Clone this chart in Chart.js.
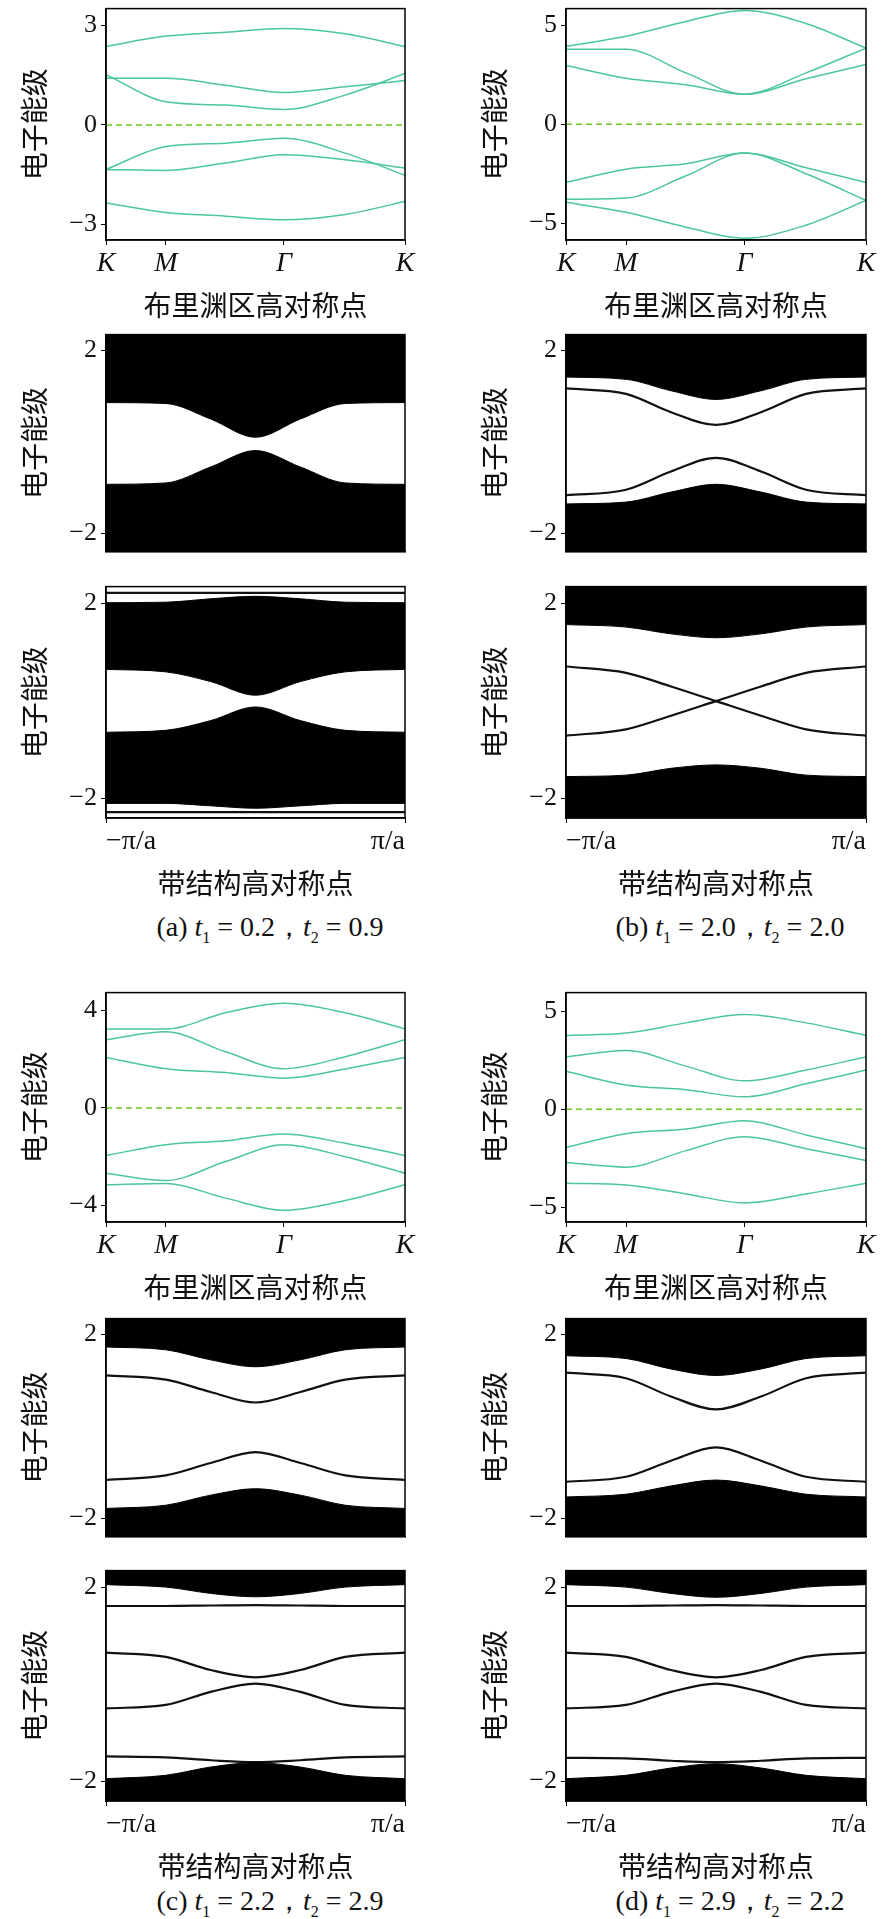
<!DOCTYPE html>
<html>
<head>
<meta charset="utf-8">
<script src="https://cdn.jsdelivr.net/npm/chart.js@4/dist/chart.umd.min.js"></script>
<style>
  body { margin:0; background:#fff; width:886px; height:1919px; position:relative; overflow:hidden; }
  canvas { position:absolute; }
  .cap { position:absolute; font-family:"Liberation Serif",serif; font-size:28px; color:#111; white-space:nowrap; transform:translateX(-50%); }
  .cap sub { font-size:16px; }
</style>
</head>
<body>
<div class="cap" style="left:270px;top:908px">(a) <i>t</i><sub>1</sub> = 0.2，<i>t</i><sub>2</sub> = 0.9</div>
<div class="cap" style="left:730px;top:908px">(b) <i>t</i><sub>1</sub> = 2.0，<i>t</i><sub>2</sub> = 2.0</div>
<div class="cap" style="left:270px;top:1882px">(c) <i>t</i><sub>1</sub> = 2.2，<i>t</i><sub>2</sub> = 2.9</div>
<div class="cap" style="left:730px;top:1882px">(d) <i>t</i><sub>1</sub> = 2.9，<i>t</i><sub>2</sub> = 2.2</div>
<script>
// 能带：K-M-Γ-K 路径
const bandX = [0, 0.2, 0.4, 0.595, 0.8, 1];
const bandTicks = [0, 0.2, 0.595, 1];
const bandTickLabels = ['K', 'M', 'Γ', 'K'];

const bandA = [
  [2.37, 2.68, 2.8, 2.91, 2.75, 2.37],
  [1.41, 1.41, 1.2, 0.98, 1.15, 1.34],
  [1.52, 0.7, 0.6, 0.47, 0.9, 1.55],
  [-1.34, -0.65, -0.55, -0.40, -0.85, -1.52],
  [-1.34, -1.37, -1.15, -0.9, -1.05, -1.3],
  [-2.35, -2.64, -2.75, -2.86, -2.7, -2.31]
];
const bandB = [
  [3.94, 4.45, 5.2, 5.76, 5.1, 3.85],
  [3.79, 3.79, 2.6, 1.52, 2.3, 3.03],
  [2.97, 2.33, 2.0, 1.52, 2.6, 3.85],
  [-2.94, -2.27, -2.0, -1.45, -2.2, -2.94],
  [-3.79, -3.73, -2.6, -1.45, -2.5, -3.85],
  [-3.94, -4.45, -5.2, -5.76, -5.1, -3.85]
];
const bandC = [
  [3.24, 3.24, 3.9, 4.29, 3.9, 3.24],
  [2.8, 3.12, 2.3, 1.61, 2.1, 2.8],
  [2.07, 1.61, 1.45, 1.22, 1.6, 2.07],
  [-1.95, -1.51, -1.35, -1.07, -1.45, -1.95],
  [-2.68, -2.98, -2.2, -1.51, -2.0, -2.68],
  [-3.15, -3.1, -3.7, -4.2, -3.8, -3.15]
];
const bandD = [
  [3.76, 3.88, 4.4, 4.82, 4.4, 3.76],
  [2.67, 3.0, 2.2, 1.45, 2.0, 2.67],
  [1.94, 1.24, 1.0, 0.64, 1.3, 2.0],
  [-1.94, -1.24, -1.0, -0.58, -1.3, -2.0],
  [-2.7, -2.94, -2.1, -1.39, -2.0, -2.6],
  [-3.76, -3.85, -4.3, -4.76, -4.3, -3.76]
];

// 纳米带：k 从 -π/a 到 π/a
const ribX = [-1, -0.6, -0.3, 0, 0.3, 0.6, 1];
const ribTickLabels = ['−π/a', 'π/a'];

const ribA1 = {
  up: [0.86, 0.84, 0.5, 0.1, 0.5, 0.84, 0.86],
  lo: [-0.93, -0.9, -0.55, -0.19, -0.55, -0.9, -0.93],
  lines: []
};
const ribA2 = {
  up: [0.65, 0.6, 0.4, 0.12, 0.4, 0.6, 0.65],
  lo: [-0.64, -0.6, -0.4, -0.12, -0.4, -0.6, -0.64],
  gapTop: [2.02, 2.03, 2.1, 2.15, 2.1, 2.03, 2.02],
  gapBot: [-2.1, -2.1, -2.15, -2.2, -2.15, -2.1, -2.1],
  lines: [[2.22, 2.22, 2.22, 2.22, 2.22, 2.22, 2.22], [-2.28, -2.28, -2.28, -2.28, -2.28, -2.28, -2.28]]
};
const ribB1 = {
  up: [1.42, 1.37, 1.12, 0.93, 1.12, 1.37, 1.42],
  lo: [-1.36, -1.32, -1.1, -0.93, -1.1, -1.32, -1.36],
  lines: [[1.17, 1.05, 0.65, 0.37, 0.65, 1.05, 1.17], [-1.17, -1.05, -0.65, -0.35, -0.65, -1.05, -1.17]]
};
const ribB2 = {
  up: [1.57, 1.52, 1.38, 1.3, 1.38, 1.52, 1.57],
  lo: [-1.55, -1.52, -1.38, -1.31, -1.38, -1.52, -1.55],
  lines: [[0.71, 0.58, 0.3, 0, -0.3, -0.58, -0.71], [-0.71, -0.58, -0.3, 0, 0.3, 0.58, 0.71]]
};
const ribC1 = {
  up: [1.73, 1.67, 1.45, 1.3, 1.45, 1.67, 1.73],
  lo: [-1.79, -1.72, -1.5, -1.36, -1.5, -1.72, -1.79],
  lines: [[1.11, 1.02, 0.75, 0.52, 0.75, 1.02, 1.11], [-1.17, -1.07, -0.8, -0.56, -0.8, -1.07, -1.17]]
};
const ribC2 = {
  up: [2.06, 2.01, 1.88, 1.81, 1.88, 2.01, 2.06],
  lo: [-1.94, -1.87, -1.7, -1.61, -1.7, -1.87, -1.94],
  lines: [[1.62, 1.62, 1.63, 1.64, 1.63, 1.62, 1.62],
          [0.66, 0.57, 0.3, 0.15, 0.3, 0.57, 0.66],
          [-0.49, -0.42, -0.15, 0.02, -0.15, -0.42, -0.49],
          [-1.48, -1.5, -1.56, -1.6, -1.56, -1.5, -1.48]]
};
const ribD1 = {
  up: [1.54, 1.48, 1.25, 1.11, 1.25, 1.48, 1.54],
  lo: [-1.54, -1.48, -1.3, -1.17, -1.3, -1.48, -1.54],
  lines: [[1.17, 1.05, 0.65, 0.37, 0.65, 1.05, 1.17], [-1.21, -1.1, -0.75, -0.46, -0.75, -1.1, -1.21]]
};
const ribD2 = {
  up: [2.06, 2.01, 1.88, 1.8, 1.88, 2.01, 2.06],
  lo: [-1.94, -1.87, -1.72, -1.63, -1.72, -1.87, -1.94],
  lines: [[1.62, 1.62, 1.63, 1.64, 1.63, 1.62, 1.62],
          [0.66, 0.57, 0.3, 0.15, 0.3, 0.57, 0.66],
          [-0.49, -0.42, -0.15, 0.02, -0.15, -0.42, -0.49],
          [-1.51, -1.52, -1.57, -1.6, -1.57, -1.52, -1.51]]
};

const SERIF = '"Liberation Serif", "DejaVu Serif", serif';
const CJK = '"Noto Sans CJK SC", sans-serif';
const PAD_T = 12;
const Y_W = 106;

function fmtMinus(v) { return String(v).replace('-', '−'); }

function makeCanvas(left, top, w, h) {
  const c = document.createElement('canvas');
  c.width = w; c.height = h;
  c.style.left = left + 'px'; c.style.top = top + 'px';
  c.style.width = w + 'px'; c.style.height = h + 'px';
  document.body.appendChild(c);
  return c;
}

function yScale(min, max, ticks) {
  return {
    type: 'linear', min, max,
    afterFit(s) { s.width = Y_W; },
    afterBuildTicks(s) { s.ticks = ticks.map(v => ({ value: v })); },
    grid: { display: true, drawOnChartArea: false, drawTicks: true, tickLength: 5, color: '#000' },
    border: { display: true, color: '#000', width: 1.5 },
    ticks: { color: '#111', font: { family: SERIF, size: 26 }, padding: 4, callback: v => fmtMinus(v) },
    title: { display: true, text: '电子能级', color: '#111', font: { family: CJK, size: 28 }, padding: { top: 18, bottom: 0 } }
  };
}

function xScale(min, max, ticks, labels, title, height, italic) {
  const show = labels !== null;
  return {
    type: 'linear', min, max,
    afterFit(s) { s.height = height; },
    afterBuildTicks(s) { s.ticks = ticks.map(v => ({ value: v })); },
    grid: { display: show, drawOnChartArea: false, drawTicks: show, tickLength: 5, color: '#000' },
    border: { display: true, color: '#000', width: 1.5 },
    ticks: {
      display: show, color: '#111', align: italic ? 'center' : 'inner', maxRotation: 0, autoSkip: false, padding: 2,
      font: { family: SERIF, size: 28, style: italic ? 'italic' : 'normal' },
      callback: (v, i) => show ? labels[i] : ''
    },
    title: { display: !!title, text: title || '', color: '#111', font: { family: CJK, size: 28 }, padding: { top: 0, bottom: 0 } }
  };
}

const frame = {
  id: 'frame',
  afterDraw(chart) {
    const { ctx, chartArea: a } = chart;
    ctx.save();
    ctx.strokeStyle = '#000'; ctx.lineWidth = 1.5;
    ctx.strokeRect(a.left, a.top, a.right - a.left, a.bottom - a.top);
    ctx.restore();
  }
};

function bandChart(colLeft, plotTop, plotH, yMin, yMax, yTicks, bands) {
  const w = colLeft === 0 ? 420 : 426;
  const c = makeCanvas(colLeft, plotTop - PAD_T, w, PAD_T + plotH + 82);
  const datasets = bands.map(b => ({
    data: b.map((y, i) => ({ x: bandX[i], y })),
    borderColor: '#4cc79a', borderWidth: 1.5, pointRadius: 0, cubicInterpolationMode: 'monotone', fill: false
  }));
  datasets.push({
    data: [{ x: 0, y: 0 }, { x: 1, y: 0 }],
    borderColor: '#66cc22', borderWidth: 1.5, borderDash: [6, 4], pointRadius: 0, fill: false
  });
  new Chart(c, {
    type: 'line',
    data: { datasets },
    options: {
      responsive: false, animation: false, devicePixelRatio: 1,
      layout: { padding: { top: PAD_T, right: colLeft === 0 ? 15 : 20, left: 0, bottom: 0 } },
      plugins: { legend: { display: false }, tooltip: { enabled: false } },
      scales: {
        x: xScale(0, 1, bandTicks, bandTickLabels, '布里渊区高对称点', 82, true),
        y: yScale(yMin, yMax, yTicks)
      }
    },
    plugins: [frame]
  });
}

function ribbonChart(colLeft, plotTop, plotH, rib, withAxis) {
  const w = colLeft === 0 ? 420 : 426;
  const xh = withAxis ? 82 : 0;
  const c = makeCanvas(colLeft, plotTop - PAD_T, w, PAD_T + plotH + (withAxis ? 82 : 6));
  const pts = arr => arr.map((y, i) => ({ x: ribX[i], y }));
  const curve = { pointRadius: 0, cubicInterpolationMode: 'monotone' };
  const hasGap = !!rib.gapTop;
  // 体带：有白色间隙时填充到间隙边界，否则填充到坐标边缘
  const datasets = [
    { ...curve, data: pts(rib.up), borderColor: '#000', borderWidth: 1, fill: hasGap ? 2 : 'end', backgroundColor: '#000' },
    { ...curve, data: pts(rib.lo), borderColor: '#000', borderWidth: 1, fill: hasGap ? 3 : 'start', backgroundColor: '#000' }
  ];
  if (hasGap) {
    datasets.push({ ...curve, data: pts(rib.gapTop), borderColor: '#000', borderWidth: 1, fill: false });
    datasets.push({ ...curve, data: pts(rib.gapBot), borderColor: '#000', borderWidth: 1, fill: false });
  }
  rib.lines.forEach(l => datasets.push({ ...curve, data: pts(l), borderColor: '#111', borderWidth: 2.2, fill: false }));
  new Chart(c, {
    type: 'line',
    data: { datasets },
    options: {
      responsive: false, animation: false, devicePixelRatio: 1,
      layout: { padding: { top: PAD_T, right: colLeft === 0 ? 15 : 20, left: 0, bottom: withAxis ? 0 : 6 } },
      plugins: { legend: { display: false }, tooltip: { enabled: false } },
      scales: {
        x: xScale(-1, 1, [-1, 1], withAxis ? ribTickLabels : null, withAxis ? '带结构高对称点' : '', xh, false),
        y: yScale(-2.4, 2.35, [-2, 2])
      }
    },
    plugins: [frame]
  });
}

const L = 0, R = 460;
bandChart(L, 1, 239, -3.47, 3.51, [-3, 0, 3], bandA);
bandChart(R, 1, 239, -5.85, 5.85, [-5, 0, 5], bandB);
ribbonChart(L, 327, 238, ribA1, false);
ribbonChart(R, 327, 238, ribB1, false);
ribbonChart(L, 579, 239, ribA2, true);
ribbonChart(R, 579, 239, ribB2, true);

bandChart(L, 985, 237, -4.68, 4.73, [-4, 0, 4], bandC);
bandChart(R, 985, 237, -5.73, 5.94, [-5, 0, 5], bandD);
ribbonChart(L, 1311, 239, ribC1, false);
ribbonChart(R, 1311, 239, ribD1, false);
ribbonChart(L, 1563, 238, ribC2, true);
ribbonChart(R, 1563, 238, ribD2, true);
</script>
</body>
</html>
